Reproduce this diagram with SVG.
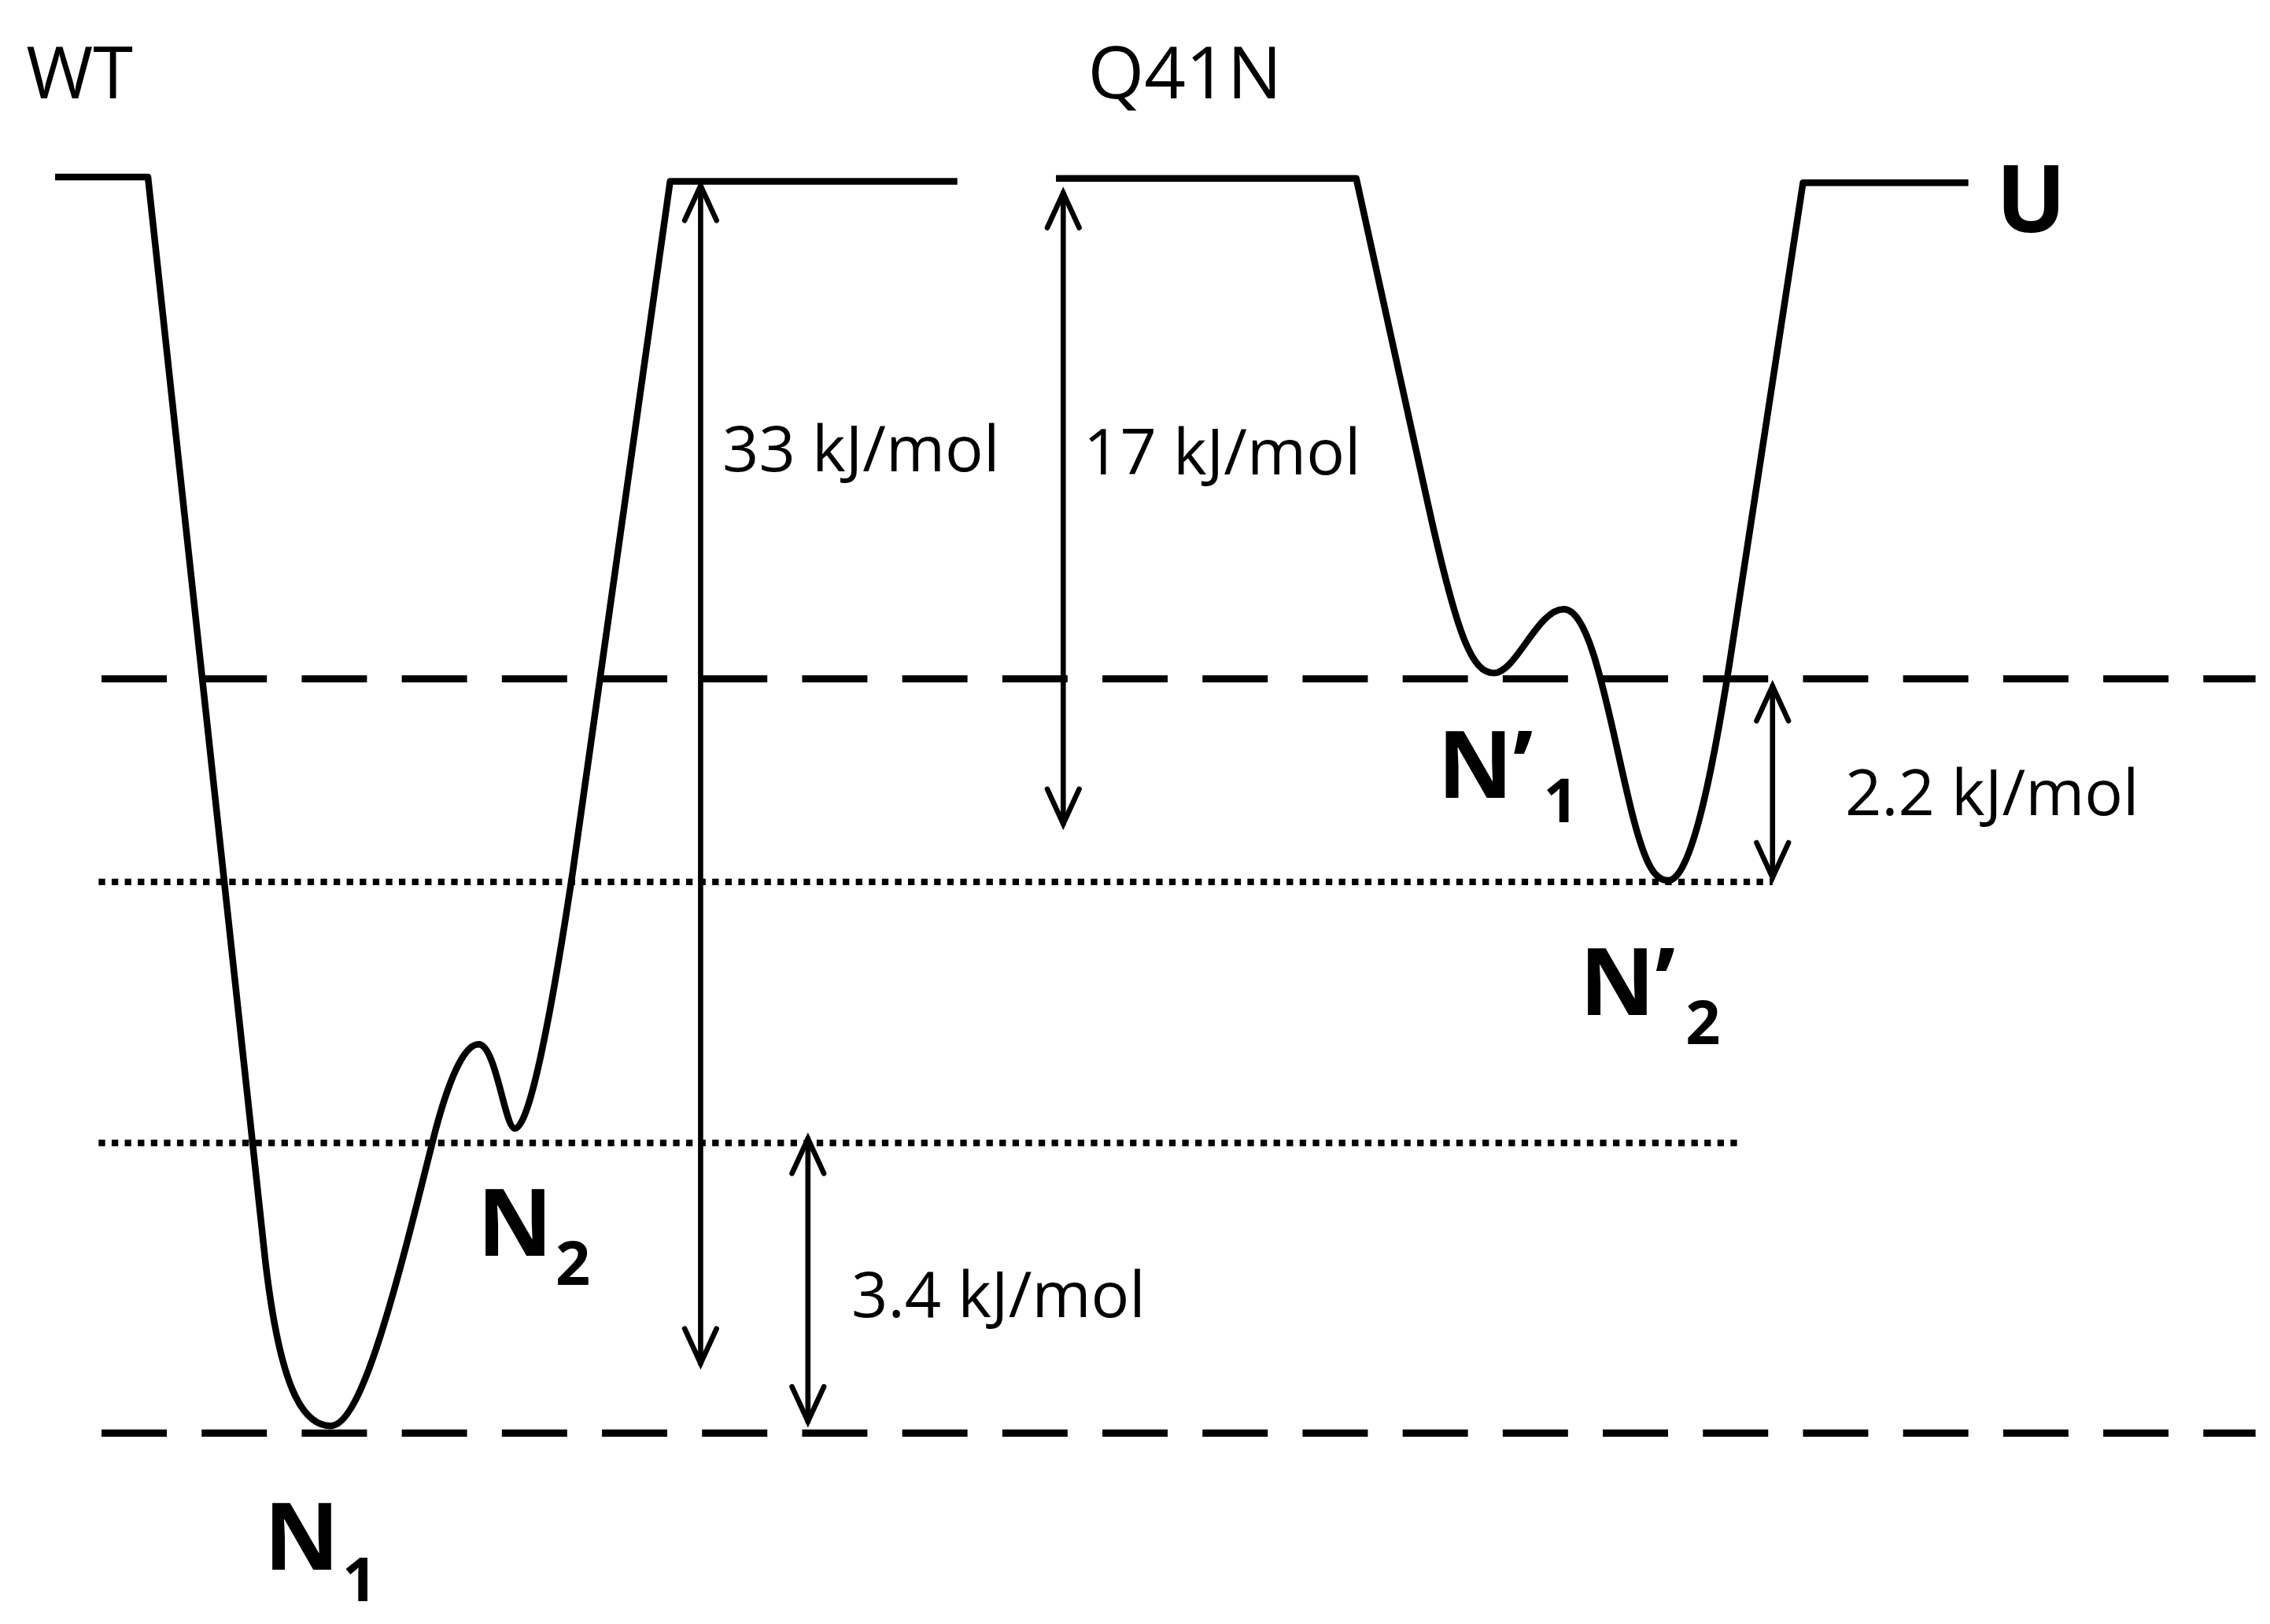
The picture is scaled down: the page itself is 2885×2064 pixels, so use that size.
<svg xmlns="http://www.w3.org/2000/svg" width="2885" height="2064" viewBox="0 0 2885 2064">
<style>
.c{fill:none;stroke:#000;stroke-width:4.6;stroke-linejoin:round}
.dash{stroke:#000;stroke-width:5;stroke-dasharray:45 24}
.dot{stroke:#000;stroke-width:4.5;stroke-dasharray:4.5 4.5}
.ar{fill:none;stroke:#000;stroke-width:3.6;stroke-linecap:round}
.t{font-family:"Open Sans","Liberation Sans",sans-serif;font-size:44px;fill:#000}
.w{font-family:"Open Sans","Liberation Sans",sans-serif;font-size:50px;fill:#000}
.b{font-family:"Open Sans","Liberation Sans",sans-serif;font-weight:bold;font-size:64px;fill:#000}
.s{font-family:"Open Sans","Liberation Sans",sans-serif;font-weight:bold;font-size:42px;fill:#000}
</style>
<rect width="2885" height="2064" fill="#fff"/>
<g transform="scale(1.8435)">
<g id="levels">
<line class="dash" x1="70" y1="468" x2="1555" y2="468"/>
<line class="dash" x1="70" y1="988" x2="1555" y2="988"/>
<line class="dot" x1="68" y1="608" x2="1222" y2="608"/>
<line class="dot" x1="68" y1="788" x2="1200" y2="788"/>
</g>
<g id="wt-curve"><path class="c" d="M38,122 H102 L183,870 C193,955 208,983 228,983 C250,983 275,880 300,780 C312,735 322,720 330,720 C342,720 348,778 355,778 C365,778 380,700 395,600 L462,125 H660"/></g>
<g id="q41n-curve"><path class="c" d="M728,123 H935 L985,350 C1005,440 1015,464 1030,464 C1045,464 1060,420 1078,420 C1098,420 1110,500 1125,560 C1135,600 1142,607 1150,607 C1165,607 1180,540 1195,440 L1243,126 H1357"/></g>
<g id="connectors">
<line class="ar" x1="483" y1="128" x2="483" y2="940"/>
<polyline class="ar" points="472,152 483,128 494,152"/>
<polyline class="ar" points="472,916 483,940 494,916"/>
<line class="ar" x1="733" y1="133" x2="733" y2="568"/>
<polyline class="ar" points="722,157 733,133 744,157"/>
<polyline class="ar" points="722,544 733,568 744,544"/>
<line class="ar" x1="557" y1="785" x2="557" y2="980"/>
<polyline class="ar" points="546,809 557,785 568,809"/>
<polyline class="ar" points="546,956 557,980 568,956"/>
<line class="ar" x1="1222" y1="473" x2="1222" y2="605"/>
<polyline class="ar" points="1211,497 1222,473 1233,497"/>
<polyline class="ar" points="1211,581 1222,605 1233,581"/>
</g>
<g id="labels">
<text class="w" x="18" y="68">WT</text>
<text class="w" x="750" y="68">Q41N</text>
<text class="b" x="1376" y="160">U</text>
<text class="t" x="498" y="325">33 kJ/mol</text>
<text class="t" x="747" y="327">17 kJ/mol</text>
<text class="t" x="587" y="908">3.4 kJ/mol</text>
<text class="t" x="1272" y="562">2.2 kJ/mol</text>
</g>
<g id="N1"><text class="b" x="182" y="1082">N</text><text class="s" x="236" y="1104">1</text></g>
<g id="N2"><text class="b" x="329" y="866">N</text><text class="s" x="383" y="886">2</text></g>
<g id="N1p"><text class="b" x="991" y="550">N’</text><text class="s" x="1064" y="567">1</text></g>
<g id="N2p"><text class="b" x="1089" y="700">N’</text><text class="s" x="1162" y="720">2</text></g>
</g>
</svg>
